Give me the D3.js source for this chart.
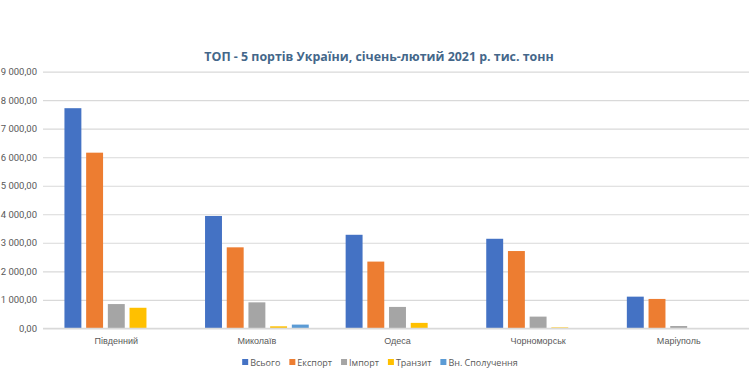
<!DOCTYPE html>
<html>
<head>
<meta charset="utf-8">
<script src="https://cdn.jsdelivr.net/npm/d3@7"></script>
<style>
	body { margin: 0; background: #fff; }
	svg { display: block; font-family: 'Open Sans', 'DejaVu Sans', sans-serif; }
</style>
</head>
<body>
<svg id="chart" width="750" height="375"></svg>
<script>
// data (тис. тонн)
const ports = ['Південний', 'Миколаїв', 'Одеса', 'Чорноморськ', 'Маріуполь'];
const seriesNames = ['Всього', 'Експорт', 'Імпорт', 'Транзит', 'Вн. Сполучення'];
const totalValues = [7720, 3940, 3280, 3140, 1110];
const exportValues = [6160, 2840, 2340, 2710, 1030];
const importValues = [850, 910, 750, 410, 80];
const transitValues = [720, 70, 190, 30, 0];
const domesticValues = [0, 130, 0, 0, 0];
const yTicks = [0, 1000, 2000, 3000, 4000, 5000, 6000, 7000, 8000, 9000];
const seriesColors = ['#4472C4', '#ED7D31', '#A5A5A5', '#FFC000', '#5B9BD5'];

const seriesValues = [totalValues, exportValues, importValues, transitValues, domesticValues];
const rows = ports.map(function(port, i) {
	let row = { port: port };
	seriesNames.forEach(function(name, j) { row[name] = seriesValues[j][i]; });
	return row;
});

const svg = d3.select('#chart');
const margin = { left: 46, right: 1, top: 71.7, bottom: 46.7 };
const width = 750, height = 375;

const uaLocale = d3.formatLocale({ decimal: ',', thousands: '\u00a0', grouping: [3], currency: ['', ''] });
const formatTick = uaLocale.format(',.2f');

let x0 = d3.scaleBand()
	.domain(ports)
	.range([ margin.left, width - margin.right ]);
let x1 = d3.scaleBand()
	.domain(seriesNames)
	.range([ 0, x0.bandwidth() ])
	.paddingInner(0.22)
	.paddingOuter(0.85);
let y = d3.scaleLinear()
	.domain([ 0, 9000 ])
	.range([ height - margin.bottom, margin.top ]);

// title
svg.append('text')
	.attr('x', 379)
	.attr('y', 61)
	.attr('text-anchor', 'middle')
	.style('font-size', '12.4px')
	.style('font-weight', 'bold')
	.style('fill', '#44678A')
	.text('ТОП - 5 портів України, січень-лютий 2021 р. тис. тонн');

// gridlines + y labels
let yAxis = d3.axisLeft(y)
	.tickValues(yTicks)
	.tickSize(-(width - margin.right - margin.left + 3))
	.tickPadding(6)
	.tickFormat(formatTick);
let yAxisG = svg.append('g')
	.attr('transform', 'translate(' + (margin.left - 3) + ',0)')
	.call(yAxis);
yAxisG.select('.domain').remove();
yAxisG.selectAll('.tick line')
	.style('stroke', '#D9D9D9')
	.style('stroke-width', 1.2);
yAxisG.selectAll('.tick text')
	.style('font-family', "'Liberation Sans Narrow', 'Roboto', sans-serif")
	.style('font-size', '9.5px')
	.style('fill', '#595959');

// bars
let groups = svg.append('g')
	.selectAll('g')
	.data(rows)
	.enter()
	.append('g')
	.attr('transform', function(d) { return 'translate(' + x0(d.port) + ',0)'; });
groups.selectAll('rect')
	.data(function(d) { return seriesNames.map(function(name, j) { return { name: name, value: d[name], color: seriesColors[j] }; }); })
	.enter()
	.append('rect')
	.attr('x', function(d) { return x1(d.name); })
	.attr('y', function(d) { return y(d.value); })
	.attr('width', x1.bandwidth())
	.attr('height', function(d) { return y(0) - y(d.value); })
	.style('fill', function(d) { return d.color; });

// category labels
let xAxis = d3.axisBottom(x0).tickSize(0).tickPadding(9);
let xAxisG = svg.append('g')
	.attr('transform', 'translate(0,' + y(0) + ')')
	.call(xAxis);
xAxisG.select('.domain')
	.attr('d', 'M' + (margin.left - 3) + ',0H' + (width - margin.right))
	.style('stroke', '#D9D9D9')
	.style('stroke-width', 1.2);
xAxisG.selectAll('.tick text')
	.style('font-size', '9px')
	.style('fill', '#595959');

// legend, laid out in a row and centred
let legend = svg.append('g');
let items = legend.selectAll('g')
	.data(seriesNames)
	.enter()
	.append('g');
items.append('rect')
	.attr('x', 0)
	.attr('y', -3)
	.attr('width', 6)
	.attr('height', 6)
	.style('fill', function(d, i) { return seriesColors[i]; });
items.append('text')
	.attr('x', 8)
	.attr('y', 3.5)
	.style('font-size', '9px')
	.style('fill', '#595959')
	.text(function(d) { return d; });
let cursor = 0;
items.each(function() {
	let itemWidth = d3.select(this).select('text').node().getComputedTextLength() + 8;
	d3.select(this).attr('transform', 'translate(' + cursor + ',0)');
	cursor += itemWidth + 9;
});
cursor -= 9;
legend.attr('transform', 'translate(' + (380 - cursor / 2) + ',362)');
</script>
</body>
</html>
